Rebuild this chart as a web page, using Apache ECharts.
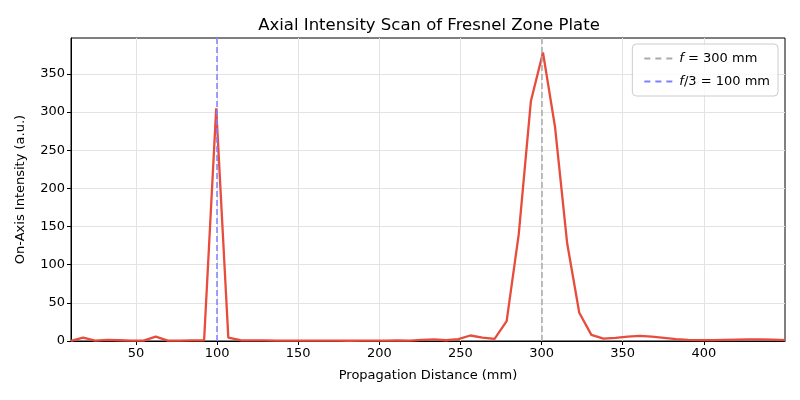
<!DOCTYPE html>
<html>
<head>
<meta charset="utf-8">
<script src="https://cdn.jsdelivr.net/npm/echarts@6/dist/echarts.min.js"></script>
<style>
  html, body { margin: 0; padding: 0; background: #fff; }
  #chart { width: 800px; height: 400px; }
</style>
</head>
<body>
<div id="chart"></div>
<script>
// propagation distance samples (mm)
const distance = [
  10, 17.46, 24.92, 32.37, 39.83, 47.29, 54.75, 62.20, 69.66, 77.12,
  84.58, 92.03, 99.49, 106.95, 114.41, 121.86, 129.32, 136.78, 144.24, 151.69,
  159.15, 166.61, 174.07, 181.53, 188.98, 196.44, 203.90, 211.36, 218.81, 226.27,
  233.73, 241.19, 248.64, 256.10, 263.56, 271.02, 278.47, 285.93, 293.39, 300.85,
  308.31, 315.76, 323.22, 330.68, 338.14, 345.59, 353.05, 360.51, 367.97, 375.42,
  382.88, 390.34, 397.80, 405.25, 412.71, 420.17, 427.63, 435.08, 442.54, 450
]
// on-axis intensity (a.u.)
const intensity = [
  0.3, 4.5, 0.6, 1.5, 1.0, 0.5, 0.4, 5.8, 0.4, 0.5,
  0.8, 1.0, 305, 4.5, 1.0, 0.8, 0.7, 0.6, 0.5, 0.4,
  0.4, 0.5, 0.4, 0.3, 0.5, 0.6, 0.5, 0.9, 0.6, 1.5,
  2.0, 1.0, 2.5, 7.2, 4.3, 2.8, 26, 140, 314, 378,
  280, 128, 37, 8, 3.2, 4.2, 5.8, 6.6, 5.6, 4.0,
  2.4, 1.5, 1.1, 1.2, 1.6, 1.9, 2.1, 2.0, 1.7, 1.2
]
const focalLength = 300
const thirdOrder = 100
const xTicks = [50, 100, 150, 200, 250, 300, 350, 400]
const yTicks = [0, 50, 100, 150, 200, 250, 300, 350]

const chart = echarts.init(document.getElementById('chart'))
const font = 'DejaVu Sans'
// three short dashes for the legend swatch
const dashIcon = 'path://M0,0h6v2h-6z M11,0h6v2h-6z M22,0h6v2h-6z'

const option = {
  animation: false,
  textStyle: { fontFamily: font },
  title: {
    text: 'Axial Intensity Scan of Fresnel Zone Plate',
    left: 424,
    top: 12,
    textAlign: 'center',
    textStyle: { fontFamily: font, fontSize: 16.5, fontWeight: 'normal', color: '#000' }
  },
  grid: {
    left: 71, right: 15, top: 38, bottom: 59,
    show: true, borderColor: '#000', borderWidth: 1, backgroundColor: 'transparent'
  },
  legend: {
    right: 22, top: 44,
    orient: 'vertical',
    itemWidth: 28, itemHeight: 2, itemGap: 10,
    padding: [8, 8, 8, 12],
    backgroundColor: 'rgba(255,255,255,0.8)',
    borderColor: '#ccc', borderWidth: 1, borderRadius: 4,
    data: [
      { name: 'f300', icon: dashIcon, itemStyle: { color: '#aaaaaa' } },
      { name: 'f100', icon: dashIcon, itemStyle: { color: '#8080ff' } }
    ],
    formatter: (name) => name === 'f300'
      ? '{i|f} = 300 mm'
      : '{i|f}/3 = 100 mm',
    textStyle: {
      fontFamily: font, fontSize: 13, color: '#000', padding: [0, 0, 0, 2],
      rich: { i: { fontFamily: font, fontSize: 13, fontStyle: 'italic', color: '#000' } }
    }
  },
  xAxis: {
    type: 'value', min: 10, max: 450,
    name: 'Propagation Distance (mm)', nameLocation: 'middle', nameGap: 28,
    nameTextStyle: { fontFamily: font, fontSize: 13, color: '#000' },
    axisLine: { show: true, lineStyle: { color: '#000' } },
    axisTick: { show: true, length: 4, customValues: xTicks, lineStyle: { color: '#000' } },
    axisLabel: { customValues: xTicks, fontFamily: font, fontSize: 13, color: '#000', margin: 6 },
    splitLine: { show: true, lineStyle: { color: '#e3e3e3', width: 1 } }
  },
  yAxis: {
    type: 'value', min: 0, max: 397,
    name: 'On-Axis Intensity (a.u.)', nameLocation: 'middle', nameGap: 44,
    nameTextStyle: { fontFamily: font, fontSize: 13, color: '#000' },
    axisLine: { show: true, lineStyle: { color: '#000' } },
    axisTick: { show: true, length: 4, customValues: yTicks, lineStyle: { color: '#000' } },
    axisLabel: { customValues: yTicks, fontFamily: font, fontSize: 13, color: '#000', margin: 6 },
    splitLine: { show: true, lineStyle: { color: '#e3e3e3', width: 1 } }
  },
  series: [
    {
      name: 'Intensity',
      type: 'line',
      data: distance.map((d, i) => [d, intensity[i]]),
      showSymbol: false,
      lineStyle: { color: '#e74c3c', width: 2.3 },
      itemStyle: { color: '#e74c3c' },
      z: 3
    },
    {
      name: 'f300',
      type: 'line',
      data: [],
      symbol: 'none',
      lineStyle: { color: '#aaaaaa', width: 1.5, type: [6, 3] },
      itemStyle: { color: '#aaaaaa' },
      markLine: {
        silent: true, symbol: 'none', label: { show: false },
        lineStyle: { color: '#aaaaaa', width: 1.5, type: [6, 3] },
        data: [{ xAxis: focalLength }]
      }
    },
    {
      name: 'f100',
      type: 'line',
      data: [],
      symbol: 'none',
      lineStyle: { color: '#8080ff', width: 1.5, type: [6, 3] },
      itemStyle: { color: '#8080ff' },
      markLine: {
        silent: true, symbol: 'none', label: { show: false },
        lineStyle: { color: '#8080ff', width: 1.5, type: [6, 3] },
        data: [{ xAxis: thirdOrder }]
      }
    }
  ]
}

chart.setOption(option)
</script>
</body>
</html>
